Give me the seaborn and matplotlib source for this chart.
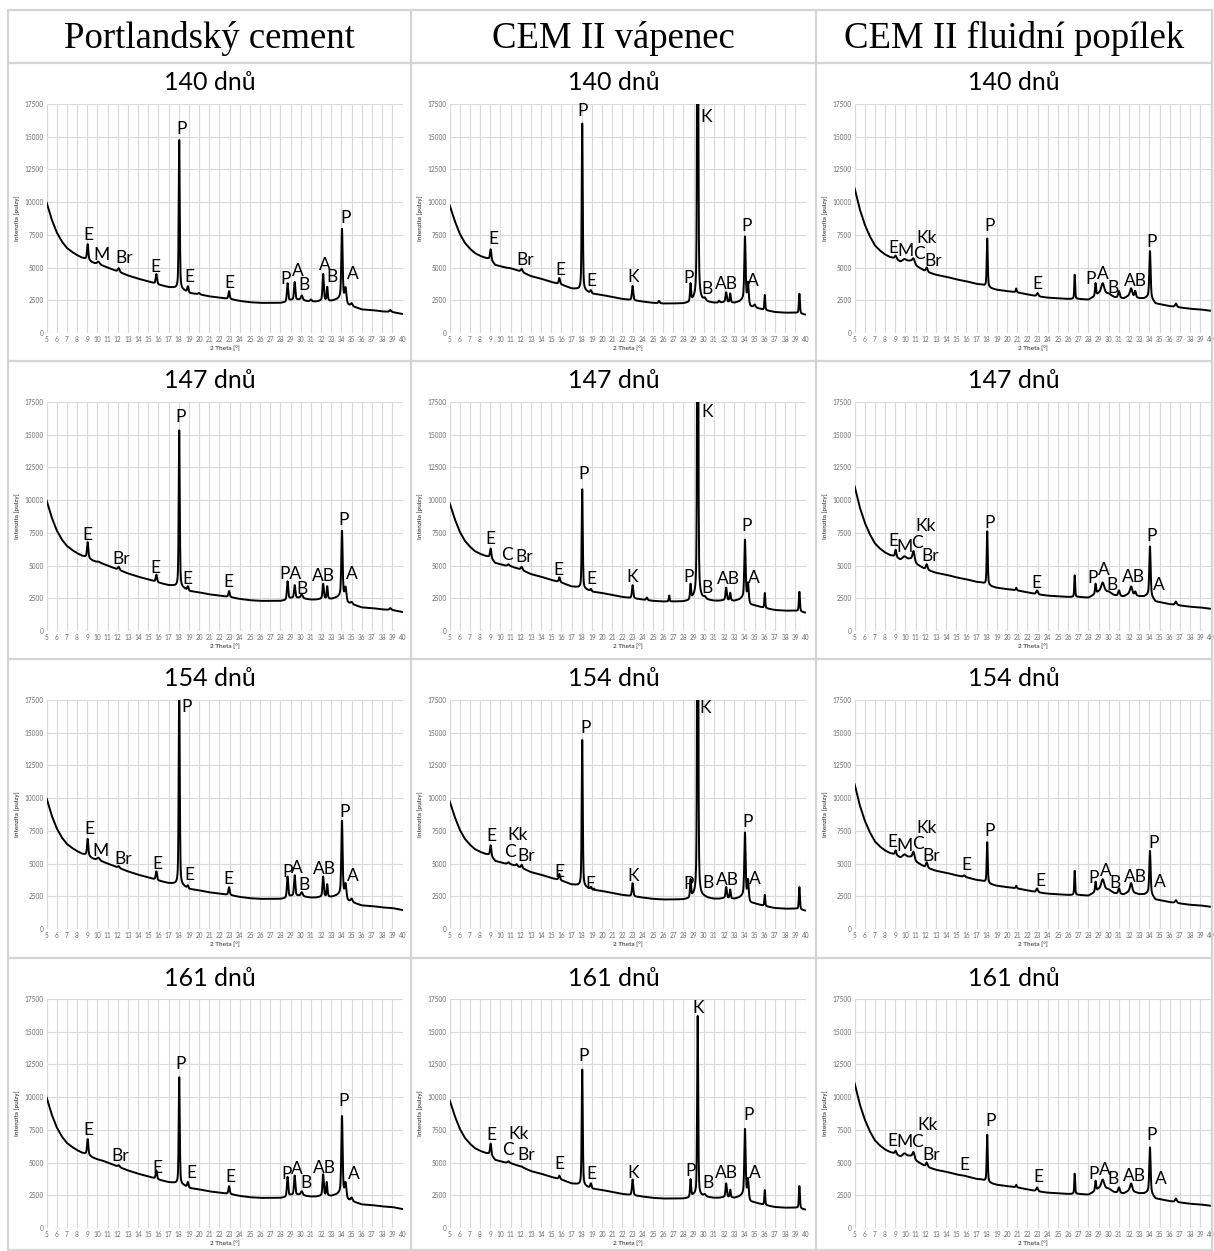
import numpy as np
import pandas as pd
import matplotlib
matplotlib.use("Agg")
import matplotlib.pyplot as plt
import seaborn as sns
from matplotlib.lines import Line2D

# ---------------------------------------------------------------------------
# Data
# ---------------------------------------------------------------------------
COLUMN_TITLES = ["Portlandský cement", "CEM II vápenec", "CEM II fluidní popílek"]
AGE_TITLES = ["140 dnů", "147 dnů", "154 dnů", "161 dnů"]

X_TICKS = list(range(5, 41))
Y_TICKS = list(range(0, 17501, 2500))

# Background (amorphous hump + air scatter) per binder, intensity [pulzy]
BG_THETA = [5, 5.5, 6, 6.5, 7, 7.5, 8, 8.5, 9, 9.5, 10, 10.5, 11, 12, 13, 14, 15,
            16, 17, 17.5, 18.5, 19, 20, 21, 22, 23, 24, 25, 26, 27, 28, 28.5, 29,
            30, 30.5, 31, 31.5, 32, 33, 33.5, 34, 34.6, 35, 36, 37, 38, 39, 40]
BG_PC = [10000, 8700, 7700, 7000, 6500, 6200, 5950, 5750, 5650, 5400, 5250, 5150,
         5000, 4700, 4400, 4150, 3950, 3700, 3500, 3450, 3250, 3050, 2950, 2800,
         2700, 2600, 2450, 2350, 2300, 2300, 2300, 2350, 2500, 2550, 2450, 2400,
         2400, 2450, 2450, 2550, 2700, 2150, 2050, 1800, 1750, 1650, 1600, 1450]
BG_LS = [9800, 8600, 7600, 6900, 6450, 6100, 5900, 5750, 5650, 5200, 5100, 5000,
         4950, 4700, 4350, 4150, 3900, 3700, 3400, 3350, 3150, 3000, 2900, 2750,
         2600, 2500, 2400, 2300, 2250, 2250, 2250, 2300, 2500, 2450, 2350, 2300,
         2300, 2350, 2300, 2400, 2600, 2000, 1950, 1750, 1600, 1550, 1550, 1400]
BG_FA = [11100, 9500, 8300, 7400, 6700, 6300, 6000, 5800, 5700, 5450, 5500, 5500,
         5150, 4700, 4450, 4300, 4100, 3950, 3750, 3700, 3400, 3300, 3200, 3100,
         2950, 2800, 2700, 2650, 2600, 2600, 2550, 2750, 3000, 3000, 2750, 2650,
         2650, 2850, 2650, 2650, 2800, 2250, 2200, 2050, 1950, 1850, 1800, 1700]

# Reflections: (2 theta [deg], peak intensity [pulzy], FWHM [deg])
PC_140_PEAKS = [(9.05, 6800, 0.15), (10.1, 5450, 0.3), (12.1, 4950, 0.2), (15.8, 4500, 0.15),
                (18.05, 15000, 0.12), (18.9, 3550, 0.15), (20.0, 3050, 0.2), (22.95, 3200, 0.15),
                (28.7, 3800, 0.15), (29.4, 3900, 0.15), (30.1, 2850, 0.2), (31.0, 2550, 0.2),
                (32.2, 4500, 0.15), (32.6, 3500, 0.12), (34.05, 8000, 0.15), (34.4, 3400, 0.2),
                (35.0, 2250, 0.2), (38.8, 1750, 0.2)]
PC_147_PEAKS = [(9.05, 6800, 0.15), (10.1, 5300, 0.3), (12.1, 4900, 0.2), (15.8, 4300, 0.15),
                (18.05, 15600, 0.12), (18.9, 3400, 0.15), (22.95, 3050, 0.15), (28.7, 3800, 0.15),
                (29.4, 3500, 0.15), (30.1, 2800, 0.2), (32.2, 3600, 0.15), (32.6, 3400, 0.12),
                (34.05, 7700, 0.15), (34.4, 3300, 0.2), (35.0, 2200, 0.2), (38.8, 1750, 0.2)]
PC_154_PEAKS = [(9.05, 6900, 0.15), (10.1, 5450, 0.3), (12.1, 4800, 0.2), (15.8, 4400, 0.15),
                (18.05, 19500, 0.12), (18.9, 3300, 0.15), (22.95, 3200, 0.15), (28.7, 4000, 0.15),
                (29.4, 4100, 0.15), (30.1, 2800, 0.2), (32.2, 4000, 0.15), (32.6, 3400, 0.12),
                (34.05, 8300, 0.15), (34.4, 3400, 0.2), (35.0, 2300, 0.2)]
PC_161_PEAKS = [(9.05, 6800, 0.15), (12.1, 4800, 0.2), (15.8, 4400, 0.15), (18.05, 11700, 0.12),
                (18.9, 3500, 0.15), (22.95, 3200, 0.15), (28.7, 3900, 0.15), (29.4, 4000, 0.15),
                (30.1, 2800, 0.2), (32.2, 4100, 0.15), (32.55, 3500, 0.12), (34.05, 8600, 0.15),
                (34.4, 3400, 0.2), (35.0, 2300, 0.2)]

LS_140_PEAKS = [(9.05, 6400, 0.15), (12.1, 4900, 0.2), (15.8, 4200, 0.15), (18.05, 16300, 0.12),
                (18.9, 3250, 0.15), (23.0, 3600, 0.15), (25.6, 2450, 0.15), (28.7, 3700, 0.12),
                (29.4, 40000, 0.12), (30.1, 2600, 0.2), (31.5, 2450, 0.15), (32.2, 3100, 0.15),
                (32.6, 3000, 0.12), (34.05, 7400, 0.15), (34.35, 3800, 0.15), (35.0, 2150, 0.2),
                (36.0, 2900, 0.1), (39.4, 3000, 0.12)]
LS_147_PEAKS = [(9.05, 6300, 0.15), (10.8, 5100, 0.2), (12.1, 4900, 0.2), (15.8, 4100, 0.15),
                (18.05, 11000, 0.12), (18.9, 3200, 0.15), (23.0, 3500, 0.15), (24.4, 2550, 0.15),
                (26.6, 2700, 0.1), (28.7, 3500, 0.12), (29.4, 40000, 0.12), (30.1, 2550, 0.2),
                (32.2, 3300, 0.15), (32.6, 2900, 0.12), (34.05, 7000, 0.15), (34.35, 3600, 0.15),
                (36.0, 2900, 0.1), (39.4, 3000, 0.12)]
LS_154_PEAKS = [(9.05, 6400, 0.15), (10.8, 5100, 0.2), (11.6, 4950, 0.2), (12.1, 4900, 0.15),
                (15.8, 4200, 0.15), (18.05, 14700, 0.12), (18.9, 3200, 0.15), (23.0, 3500, 0.15),
                (28.7, 3700, 0.12), (29.4, 40000, 0.12), (32.2, 3200, 0.15), (32.6, 3000, 0.12),
                (34.05, 7400, 0.15), (34.35, 3700, 0.15), (36.0, 2600, 0.1), (39.4, 3200, 0.12)]
LS_161_PEAKS = [(9.05, 6450, 0.15), (10.8, 5100, 0.2), (12.1, 4700, 0.15), (15.8, 4000, 0.15),
                (18.05, 12300, 0.12), (18.9, 3400, 0.15), (23.0, 3700, 0.15), (28.7, 3700, 0.12),
                (29.4, 16200, 0.12), (30.1, 2550, 0.2), (32.2, 3400, 0.15), (32.6, 2900, 0.12),
                (34.05, 7600, 0.15), (34.35, 3700, 0.15), (36.0, 2900, 0.1), (39.4, 3200, 0.12)]

FA_140_PEAKS = [(9.05, 5900, 0.2), (9.9, 5650, 0.4), (10.8, 5700, 0.3), (12.1, 5000, 0.2),
                (18.05, 7300, 0.12), (20.9, 3400, 0.12), (23.0, 3050, 0.2), (26.65, 4500, 0.1),
                (28.7, 3800, 0.12), (29.4, 3800, 0.35), (31.0, 3200, 0.2), (32.2, 3400, 0.25),
                (32.6, 3200, 0.15), (34.05, 6300, 0.15), (36.6, 2250, 0.2)]
FA_147_PEAKS = [(9.05, 6200, 0.15), (9.9, 5700, 0.4), (10.8, 6100, 0.25), (12.1, 5100, 0.2),
                (18.05, 7700, 0.12), (20.9, 3300, 0.12), (22.95, 3100, 0.2), (26.65, 4300, 0.1),
                (28.7, 3600, 0.12), (29.4, 3700, 0.35), (31.0, 3100, 0.2), (32.2, 3400, 0.25),
                (32.6, 3000, 0.15), (34.05, 6500, 0.15), (36.6, 2250, 0.2)]
FA_154_PEAKS = [(9.05, 6000, 0.15), (9.9, 5700, 0.4), (10.8, 5900, 0.25), (12.1, 5100, 0.2),
                (15.8, 4100, 0.2), (18.05, 6700, 0.12), (20.9, 3300, 0.12), (22.95, 3100, 0.2),
                (26.65, 4500, 0.1), (28.7, 3600, 0.12), (29.4, 3800, 0.35), (31.0, 3100, 0.2),
                (32.2, 3500, 0.25), (34.05, 6000, 0.15), (36.6, 2200, 0.2)]
FA_161_PEAKS = [(9.05, 5900, 0.15), (9.9, 5700, 0.4), (10.8, 5800, 0.25), (12.1, 5000, 0.2),
                (15.8, 4000, 0.2), (18.05, 7200, 0.12), (20.9, 3300, 0.12), (22.95, 3100, 0.2),
                (26.65, 4200, 0.1), (28.7, 3600, 0.12), (29.4, 3700, 0.35), (31.0, 3100, 0.2),
                (32.2, 3400, 0.25), (34.05, 6200, 0.15), (36.6, 2250, 0.2)]

# Phase labels: (text, 2 theta, intensity)
PC_140_LABELS = [("E", 9.1, 7500), ("M", 10.4, 5960), ("Br", 12.6, 5750), ("E", 15.7, 5070),
                 ("P", 18.25, 15560), ("E", 19.0, 4300), ("E", 23.0, 3840), ("P", 28.5, 4100),
                 ("A", 29.7, 4700), ("B", 30.35, 3670), ("A", 32.4, 5200), ("B", 33.1, 4250),
                 ("P", 34.4, 8760), ("A", 35.1, 4500)]
PC_147_LABELS = [("E", 9.05, 7360), ("Br", 12.3, 5540), ("E", 15.7, 4840), ("P", 18.17, 16330),
                 ("E", 18.87, 3980), ("E", 22.85, 3720), ("PA", 29.0, 4320), ("B", 30.15, 3200),
                 ("AB", 32.2, 4240), ("P", 34.2, 8450), ("A", 35.0, 4370)]
PC_154_LABELS = [("E", 9.17, 7630), ("M", 10.3, 5970), ("Br", 12.5, 5380), ("E", 15.9, 4940),
                 ("P", 18.8, 16960), ("E", 19.0, 4150), ("E", 22.9, 3840), ("P", 28.7, 4350),
                 ("A", 29.66, 4660), ("B", 30.3, 3380), ("AB", 32.3, 4610), ("P", 34.3, 8970),
                 ("A", 35.1, 4050)]
PC_161_LABELS = [("E", 9.16, 7470), ("Br", 12.2, 5490), ("E", 15.9, 4560), ("P", 18.15, 12550),
                 ("E", 19.2, 4200), ("E", 23.05, 3890), ("P", 28.6, 4120), ("A", 29.58, 4510),
                 ("B", 30.5, 3430), ("AB", 32.35, 4560), ("P", 34.2, 9720), ("A", 35.2, 4120)]

LS_140_LABELS = [("E", 9.32, 7190), ("Br", 12.43, 5570), ("E", 15.87, 4800), ("P", 18.1, 16990),
                 ("K", 30.2, 16500), ("E", 18.98, 3980), ("K", 23.07, 4290), ("P", 28.5, 4180),
                 ("B", 30.28, 3340), ("AB", 32.24, 3770), ("P", 34.2, 8210), ("A", 34.86, 3980)]
LS_147_LABELS = [("E", 9.02, 7050), ("C", 10.63, 5810), ("Br", 12.36, 5630), ("E", 15.67, 4650),
                 ("P", 18.18, 12000), ("K", 30.35, 16730), ("E", 18.97, 3950), ("K", 22.99, 4130),
                 ("P", 28.55, 4130), ("B", 30.35, 3300), ("AB", 32.41, 3950), ("P", 34.2, 8000),
                 ("A", 34.93, 4030)]
LS_154_LABELS = [("E", 9.16, 7100), ("Kk", 11.68, 7150), ("C", 10.9, 5860), ("Br", 12.5, 5550),
                 ("E", 15.8, 4390), ("P", 18.33, 15360), ("K", 30.15, 16900), ("E", 18.85, 3410),
                 ("K", 23.07, 4080), ("P", 28.54, 3410), ("B", 30.37, 3480), ("AB", 32.37, 3740),
                 ("P", 34.27, 8180), ("A", 35.03, 3820)]
LS_161_LABELS = [("E", 9.07, 7100), ("C", 10.75, 5980), ("Kk", 11.77, 7200), ("Br", 12.53, 5590),
                 ("E", 15.83, 4890), ("P", 18.22, 13160), ("K", 29.47, 16800), ("E", 18.99, 4110),
                 ("K", 23.06, 4240), ("P", 28.7, 4320), ("B", 30.43, 3460), ("AB", 32.26, 4190),
                 ("P", 34.4, 8610), ("A", 35.0, 4240)]

FA_140_LABELS = [("E", 8.84, 6490), ("M", 9.99, 6240), ("C", 11.3, 6030), ("Kk", 12.12, 7260),
                 ("Br", 12.7, 5520), ("P", 18.25, 8160), ("E", 22.94, 3770), ("P", 28.19, 4110),
                 ("A", 29.4, 4490), ("B", 30.38, 3460), ("AB", 32.6, 3980), ("P", 34.25, 6930)]
FA_147_LABELS = [("E", 8.79, 6890), ("M", 9.91, 6450), ("C", 11.16, 6710), ("Kk", 11.99, 8050),
                 ("Br", 12.42, 5720), ("P", 18.25, 8270), ("E", 22.86, 3640), ("P", 28.37, 4030),
                 ("A", 29.56, 4630), ("B", 30.28, 3510), ("AB", 32.45, 4110), ("P", 34.23, 7230),
                 ("A", 34.96, 3540)]
FA_154_LABELS = [("E", 8.77, 6660), ("M", 9.89, 6350), ("C", 11.23, 6480), ("Kk", 12.05, 7750),
                 ("Br", 12.54, 5570), ("E", 15.95, 4870), ("P", 18.28, 7470), ("E", 23.32, 3680),
                 ("P", 28.5, 3890), ("A", 29.7, 4460), ("B", 30.58, 3500), ("AB", 32.6, 3940),
                 ("P", 34.4, 6610), ("A", 35.06, 3600)]
FA_161_LABELS = [("E", 8.76, 6640), ("M", 9.91, 6590), ("C", 11.17, 6540), ("Kk", 12.17, 7850),
                 ("Br", 12.57, 5610), ("E", 15.83, 4780), ("P", 18.34, 8140), ("E", 23.1, 3880),
                 ("P", 28.47, 4140), ("A", 29.57, 4470), ("B", 30.38, 3750), ("AB", 32.48, 4010),
                 ("P", 34.24, 7110), ("A", 35.09, 3750)]

BACKGROUNDS = [BG_PC, BG_LS, BG_FA]
PEAK_GRID = [
    [PC_140_PEAKS, LS_140_PEAKS, FA_140_PEAKS],
    [PC_147_PEAKS, LS_147_PEAKS, FA_147_PEAKS],
    [PC_154_PEAKS, LS_154_PEAKS, FA_154_PEAKS],
    [PC_161_PEAKS, LS_161_PEAKS, FA_161_PEAKS],
]
LABEL_GRID = [
    [PC_140_LABELS, LS_140_LABELS, FA_140_LABELS],
    [PC_147_LABELS, LS_147_LABELS, FA_147_LABELS],
    [PC_154_LABELS, LS_154_LABELS, FA_154_LABELS],
    [PC_161_LABELS, LS_161_LABELS, FA_161_LABELS],
]


def diffractogram(background, peaks):
    """Background plus pseudo-Voigt reflections on a 0.02 deg step grid."""
    theta = np.arange(5.0, 40.0001, 0.02)
    bg = np.interp(theta, BG_THETA, background)
    signal = bg.copy()
    for pos, intensity, fwhm in peaks:
        amp = max(intensity - np.interp(pos, BG_THETA, background), 0.0)
        d = (theta - pos) / (fwhm / 2.0)
        gauss = np.exp(-np.log(2.0) * d ** 2)
        lorentz = 1.0 / (1.0 + d ** 2)
        signal += amp * (0.55 * gauss + 0.45 * lorentz)
    return pd.DataFrame({"theta": theta, "intenzita": signal})


# ---------------------------------------------------------------------------
# Figure
# ---------------------------------------------------------------------------
sns.set_theme(style="white")
plt.rcParams["font.family"] = ["Lato", "Open Sans", "DejaVu Sans"]

W, H = 1214, 1251
fig = plt.figure(figsize=(W / 100, H / 100), dpi=100)
fig.patch.set_facecolor("white")

COL_LEFT = [8, 411, 816]
COL_RIGHT = 1212
ROW_TOP = [63, 361, 659, 958]
TABLE_TOP = 10
TABLE_BOTTOM = 1250
GRID_COLOR = "#d4d4d4"


def fx(px):
    return px / W


def fy(py):
    return 1 - py / H


# table frame
for py in [TABLE_TOP] + ROW_TOP + [TABLE_BOTTOM]:
    fig.add_artist(Line2D([fx(COL_LEFT[0]), fx(COL_RIGHT)], [fy(py), fy(py)],
                          color=GRID_COLOR, lw=1.6))
for px in COL_LEFT + [COL_RIGHT]:
    fig.add_artist(Line2D([fx(px), fx(px)], [fy(TABLE_TOP), fy(TABLE_BOTTOM)],
                          color=GRID_COLOR, lw=1.6))

col_edges = COL_LEFT + [COL_RIGHT]
for c, title in enumerate(COLUMN_TITLES):
    cx = (col_edges[c] + col_edges[c + 1]) / 2
    fig.text(fx(cx), fy(38), title, ha="center", va="center",
             family=["Liberation Serif", "DejaVu Serif"], fontsize=26.5, color="black")

for r, age in enumerate(AGE_TITLES):
    for c in range(3):
        left = COL_LEFT[c] + 38.5
        top = ROW_TOP[r] + 41
        bottom = ROW_TOP[r] + 270
        cx = (col_edges[c] + col_edges[c + 1]) / 2
        fig.text(fx(cx), fy(ROW_TOP[r] + 20), age, ha="center", va="center",
                 fontsize=18, color="black")

        ax = fig.add_axes([fx(left), fy(bottom), 356 / W, (bottom - top) / H])
        df = diffractogram(BACKGROUNDS[c], PEAK_GRID[r][c])
        sns.lineplot(data=df, x="theta", y="intenzita", ax=ax, color="black",
                     lw=1.4, errorbar=None, estimator=None)

        ax.set_xlim(5, 40)
        ax.set_ylim(0, 17500)
        ax.set_xticks(X_TICKS)
        ax.set_yticks(Y_TICKS)
        ax.set_xticklabels([str(t) for t in X_TICKS])
        ax.set_yticklabels([str(t) for t in Y_TICKS])
        ax.grid(True, color="#d9d9d9", lw=0.8)
        ax.set_axisbelow(True)
        for s in ax.spines.values():
            s.set_visible(False)
        ax.tick_params(axis="both", length=0, labelsize=4.7, colors="#6e6e6e", pad=2)
        ax.set_xlabel("2 Theta [°]", fontsize=4.6, color="#555555",
                      fontweight="bold", labelpad=2)
        ax.set_ylabel("Intenzita [pulzy]", fontsize=4.6, color="#555555",
                      fontweight="bold", labelpad=3)

        for text, xt, yt in LABEL_GRID[r][c]:
            ax.text(xt, yt, text, ha="center", va="center", fontsize=12.5,
                    color="black", clip_on=False)

fig.savefig("out.png", dpi=100, facecolor="white")
